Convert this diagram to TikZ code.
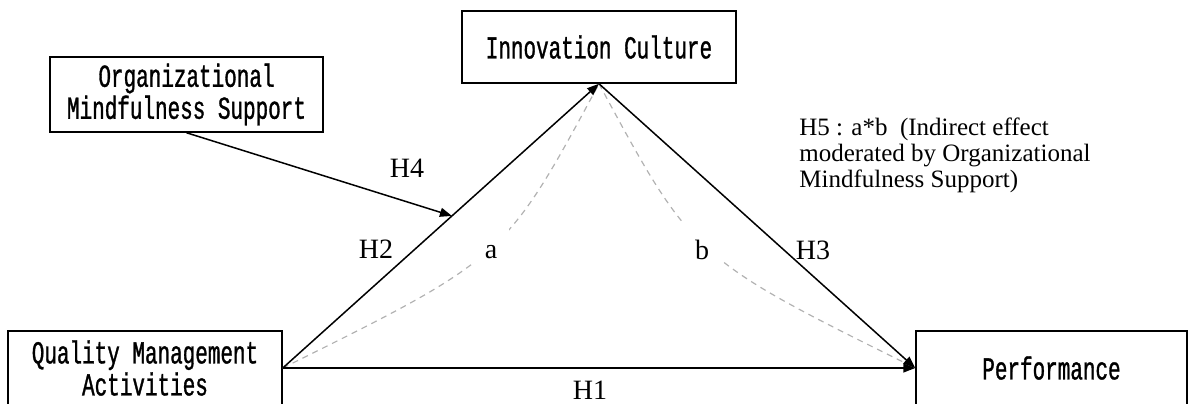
\documentclass[tikz,border=0pt]{standalone}
\usepackage{fontspec}
\setmainfont{Liberation Serif}
\newfontfamily\boxfont[FakeStretch=0.655,FakeBold=1]{Liberation Mono}
\usetikzlibrary{calc}
\usetikzlibrary{arrows.meta}

\begin{document}
\begin{tikzpicture}[x=0.5pt,y=-0.5pt,
  box/.style={draw, line width=0.75pt, minimum width=137pt, minimum height=37pt, inner sep=0pt, align=center, font=\boxfont\fontsize{16pt}{16pt}\selectfont},
  arr/.style={line width=0.75pt, -{Triangle[length=6pt,width=4.5pt]}},
  hyp/.style={inner sep=1pt, font=\fontsize{14pt}{16pt}\selectfont},
  medpath/.style={draw=black!30, line width=0.6pt, dash pattern=on 3pt off 2.5pt}]
\useasboundingbox (0,0) rectangle (1191,403);

\node[box, minimum width=136.5pt, minimum height=37.5pt] (oms) at (186.5,94.5) {Organizational\\Mindfulness Support};
\node[box, minimum height=36pt] (inno) at (599,47) {Innovation Culture};
\node[box] (qma) at (145,368) {Quality Management\\Activities};
\node[box, minimum width=135.5pt] (perf) at (1051.5,368) {Performance};

\draw[medpath] (qma.east) .. controls (505,258) and (505,258) .. (inno.south);
\draw[medpath] (inno.south) .. controls (693,258) and (693,258) .. (perf.west);

\coordinate (h4tip) at ($(qma.east)!0.535!(inno.south)$);
\draw[arr] (qma.east) -- (perf.west);
\draw[arr] (qma.east) -- (inno.south);
\draw[arr] (inno.south) -- (perf.west);
\draw[arr] (oms.south) -- (h4tip);

\node[hyp] (h1) at (590,390) {H1};
\node[hyp] (h2) at (376,249) {H2};
\node[hyp] (h3) at (813,250) {H3};
\node[hyp] (h4) at (407,168) {H4};
\node[hyp, fill=white, inner xsep=6pt, inner ysep=8pt] (pa) at (491,252) {a};
\node[hyp, fill=white, inner xsep=6pt, inner ysep=8pt] (pb) at (702,250) {b};
\node[align=left, anchor=west, inner sep=0pt, font=\fontsize{12.5pt}{13pt}\selectfont] (h5) at (799,155) {H5 : a*b~~(Indirect effect\\moderated by Organizational\\Mindfulness Support)};
\end{tikzpicture}
\end{document}
